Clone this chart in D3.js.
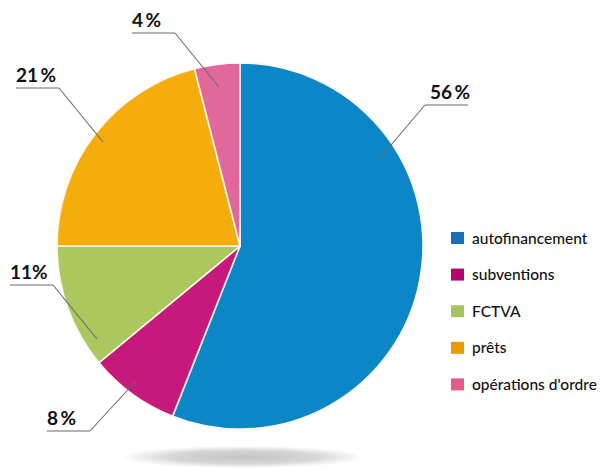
<!DOCTYPE html>
<html><head><meta charset="utf-8">
<script src="https://cdn.jsdelivr.net/npm/d3@7"></script>
<style>body{margin:0;background:#fff}svg{display:block}</style>
</head><body>
<svg id="chart" width="600" height="469"></svg>
<script>
const categories = ["autofinancement", "subventions", "FCTVA", "prêts", "opérations d'ordre"];
const values = [56, 8, 11, 21, 4];
const labelNumbers = ["56", "8", "11", "21", "4"];
const labelGaps = [2.5, 2.5, 0, 2.5, 2.5];
const sliceColors = ["#0b86c7", "#c6197b", "#abc85e", "#f5ad0b", "#e2689b"];
const legendColors = ["#1770b3", "#b3046f", "#a6c560", "#e69c00", "#e45c8a"];
const labelPos = [
  {tx: 430, ly: 105, lx1: 425, lx2: 468, px: 380, py: 158},
  {tx: 47, ly: 431, lx1: 47, lx2: 90, px: 135, py: 382},
  {tx: 10, ly: 285, lx1: 10, lx2: 53, px: 97, py: 339},
  {tx: 16, ly: 88, lx1: 16, lx2: 59, px: 103, py: 142},
  {tx: 132, ly: 33, lx1: 132, lx2: 175, px: 219, py: 87}
];

const svg = d3.select("#chart");
const cx = 240, cy = 246, r = 183;

const defs = svg.append("defs");
const grad = defs.append("radialGradient").attr("id", "shadow");
grad.append("stop").attr("offset", "0%").attr("stop-color", "#c4c4c4");
grad.append("stop").attr("offset", "60%").attr("stop-color", "#d6d6d6");
grad.append("stop").attr("offset", "100%").attr("stop-color", "#ffffff");
svg.append("ellipse").attr("cx", 243).attr("cy", 457).attr("rx", 122).attr("ry", 11)
  .attr("fill", "url(#shadow)");

const pie = d3.pie().sort(null).value(d => d);
const arc = d3.arc().innerRadius(0).outerRadius(r);
const arcs = pie(values);

const g = svg.append("g").attr("transform", `translate(${cx},${cy})`);
g.selectAll("path").data(arcs).join("path")
  .attr("d", arc)
  .attr("fill", (d, i) => sliceColors[i])
  .attr("stroke", "#fdf6ee")
  .attr("stroke-width", 1.6)
  .attr("stroke-linejoin", "round");

const lg = svg.append("g");
arcs.forEach((d, i) => {
  const p = labelPos[i];
  lg.append("line")
    .attr("x1", p.lx1).attr("y1", p.ly).attr("x2", p.lx2).attr("y2", p.ly)
    .attr("stroke", "#6b6b6b").attr("stroke-width", 1.2);
  const ex = (i === 0) ? p.lx1 : p.lx2;
  lg.append("line")
    .attr("x1", ex).attr("y1", p.ly).attr("x2", p.px).attr("y2", p.py)
    .attr("stroke", "#6b6b6b").attr("stroke-width", 1.1);
  const t = lg.append("text")
    .attr("x", p.tx).attr("y", p.ly - 6)
    .attr("font-family", "Lato, 'Open Sans', sans-serif")
    .attr("font-weight", "bold").attr("font-size", 19)
    .attr("fill", "#111");
  t.append("tspan").text(labelNumbers[i]);
  t.append("tspan").attr("dx", labelGaps[i]).text("%");
});

const leg = svg.append("g").attr("transform", "translate(451,232)");
categories.forEach((c, i) => {
  const row = leg.append("g").attr("transform", `translate(0,${i * 36.6})`);
  row.append("rect").attr("width", 13).attr("height", 12).attr("fill", legendColors[i]);
  row.append("text").attr("x", 21).attr("y", 11.5)
    .attr("font-family", "Lato, 'Open Sans', sans-serif")
    .attr("font-weight", 500)
    .attr("font-size", 15.5).attr("fill", "#111").text(c);
});
</script>
</body></html>
